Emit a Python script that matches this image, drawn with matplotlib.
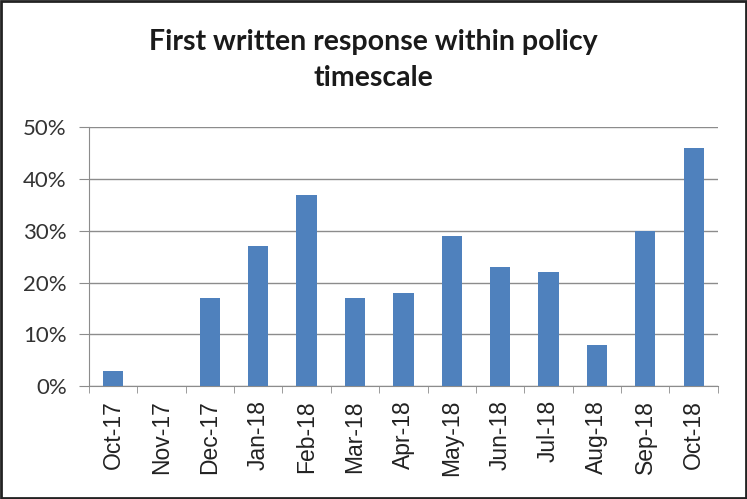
import numpy as np
import matplotlib.pyplot as plt
from matplotlib.patches import Rectangle

months = ["Oct-17", "Nov-17", "Dec-17", "Jan-18", "Feb-18", "Mar-18", "Apr-18",
          "May-18", "Jun-18", "Jul-18", "Aug-18", "Sep-18", "Oct-18"]
pct = [3, 0, 17, 27, 37, 17, 18, 29, 23, 22, 8, 30, 46]
yticks = [0, 10, 20, 30, 40, 50]

fig = plt.figure(figsize=(7.47, 4.99), dpi=100)
ax = fig.add_axes([0.119, 0.226, 0.842, 0.519])

x = np.arange(len(months))
ax.bar(x, pct, width=0.42, color="#4F81BD", zorder=3)

ax.set_ylim(0, 50)
ax.set_xlim(-0.5, len(months) - 0.5)
ax.set_yticks(yticks)
ax.set_yticklabels([f"{v}%" for v in yticks], fontsize=16,
                   family="Lato", color="#333333")
ax.yaxis.grid(True, color="#8c8c8c", linewidth=1.0, zorder=0)

ax.set_xticks(x)
ax.set_xticklabels(months, rotation=90, fontsize=16.5, family="Liberation Sans",
                   color="#222222")
ax.tick_params(axis="x", which="major", length=0, pad=10)
ax.set_xticks(np.arange(-0.5, len(months), 1.0), minor=True)
ax.tick_params(axis="x", which="minor", length=5, color="#8c8c8c", direction="out")
ax.tick_params(axis="y", length=7, color="#8c8c8c", direction="out", pad=9)

for s in ["top", "right"]:
    ax.spines[s].set_visible(False)
for s in ["left", "bottom"]:
    ax.spines[s].set_color("#8c8c8c")

fig.text(0.5, 0.88, "First written response within policy\ntimescale",
         ha="center", va="center", fontsize=20.5, fontweight="bold",
         family="Lato", linespacing=1.5, color="#1a1a1a")

fig.patches.append(Rectangle((0.002, 0.003), 0.996, 0.994, transform=fig.transFigure,
                             fill=False, edgecolor="#222222", linewidth=2))

fig.savefig("out.png", dpi=100)
